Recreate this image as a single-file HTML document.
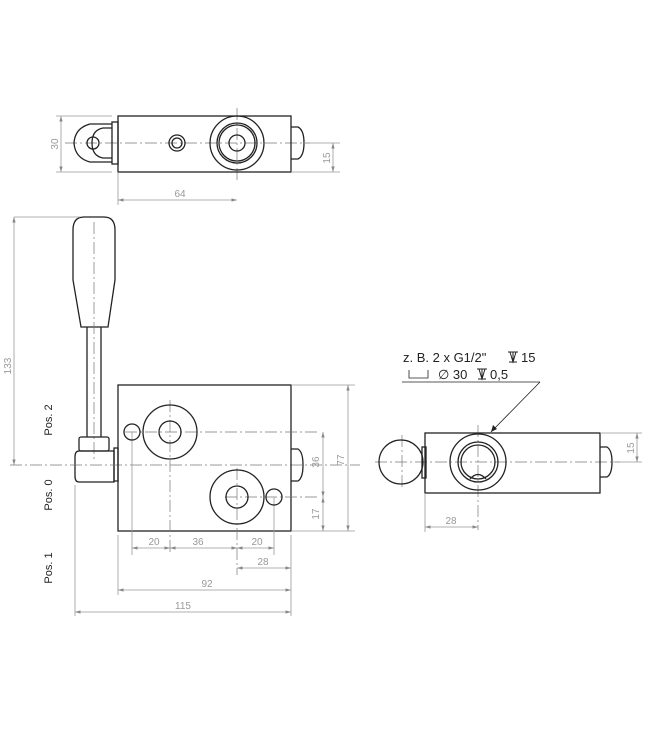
<!DOCTYPE html>
<html><head><meta charset="utf-8"><style>
html,body{margin:0;padding:0;background:#fff}
svg{display:block}
text{font-family:"Liberation Sans",sans-serif;fill:#999;font-size:10px}
.k{stroke:#222;stroke-width:1.3;fill:none}
.d{stroke:#999;stroke-width:0.8;fill:none}
.c{stroke:#777;stroke-width:0.7;fill:none;stroke-dasharray:12 3 2 3}
</style></head><body>
<svg width="650" height="730" viewBox="0 0 650 730" xmlns="http://www.w3.org/2000/svg">
<defs>
<marker id="a" viewBox="0 0 10 10" refX="10" refY="5" markerWidth="7" markerHeight="7" orient="auto-start-reverse"><path d="M0,2L10,5L0,8z" fill="#888"/></marker>
</defs>
<!-- TOP VIEW -->
<line class="c" x1="65" y1="143" x2="310" y2="143"/>
<line class="c" x1="237" y1="108" x2="237" y2="180"/>
<path class="k" d="M112,124 L90,124 Q75,128 74,143 Q75,158 90,162 L112,162"/>
<path class="k" d="M112,128 L103,128 Q92,130 92,143 Q92,156 103,158 L112,158"/>
<circle class="k" cx="93" cy="143" r="6"/>
<rect class="k" x="112" y="122" width="6" height="42"/>
<rect class="k" x="118" y="116" width="173" height="56"/>
<circle class="k" cx="177" cy="143" r="8"/>
<circle class="k" cx="177" cy="143" r="5"/>
<circle class="k" cx="237" cy="143" r="27"/>
<circle class="k" cx="237" cy="143" r="20"/>
<circle class="k" cx="237" cy="143" r="18"/>
<circle class="k" cx="237" cy="143" r="8"/>
<path class="k" d="M291,127 L298,127 Q304,130 304,143 Q304,156 298,159 L291,159"/>
<line class="d" x1="56" y1="116" x2="112" y2="116"/><line class="d" x1="56" y1="172" x2="112" y2="172"/>
<line class="d" x1="61" y1="116" x2="61" y2="172" marker-start="url(#a)" marker-end="url(#a)"/>
<text x="58" y="144" text-anchor="middle" transform="rotate(-90 58 144)">30</text>
<line class="d" x1="291" y1="172" x2="340" y2="172"/><line class="d" x1="304" y1="143" x2="340" y2="143"/>
<line class="d" x1="333" y1="143" x2="333" y2="172" marker-start="url(#a)" marker-end="url(#a)"/>
<text x="330" y="158" text-anchor="middle" transform="rotate(-90 330 158)">15</text>
<line class="d" x1="118" y1="172" x2="118" y2="205"/>
<line class="d" x1="118" y1="200" x2="237" y2="200" marker-start="url(#a)" marker-end="url(#a)"/>
<text x="180" y="197" text-anchor="middle">64</text>

<!-- FRONT VIEW -->
<path class="k" d="M84,217 Q73,217 73,230 L73,280 L81,327 L108,327 L115,280 L115,230 Q115,217 104,217 Z"/>
<line class="c" x1="94" y1="222" x2="94" y2="460"/>
<line class="k" x1="87" y1="327" x2="87" y2="437"/>
<line class="k" x1="101" y1="327" x2="101" y2="437"/>
<rect class="k" x="79" y="437" width="30" height="14" rx="2"/>
<path class="k" d="M79,451 L114,451 L114,482 L79,482 Q75,482 75,476 L75,457 Q75,451 79,451 Z"/>
<rect class="k" x="114" y="448" width="4" height="33"/>
<line class="c" x1="10" y1="465" x2="360" y2="465"/>
<rect class="k" x="118" y="385" width="173" height="146"/>
<path class="k" d="M291,449 L298,449 Q303,452 303,465 Q303,478 298,481 L291,481"/>
<line class="c" x1="125" y1="432" x2="320" y2="432"/>
<line class="c" x1="225" y1="497" x2="320" y2="497"/>
<line class="c" x1="170" y1="400" x2="170" y2="555"/>
<line class="c" x1="237" y1="468" x2="237" y2="575"/>
<line class="d" x1="132" y1="432" x2="132" y2="555"/>
<line class="d" x1="274" y1="497" x2="274" y2="555"/>
<circle class="k" cx="170" cy="432" r="27"/><circle class="k" cx="170" cy="432" r="11"/>
<circle class="k" cx="132" cy="432" r="8"/>
<circle class="k" cx="237" cy="497" r="27"/><circle class="k" cx="237" cy="497" r="11"/>
<circle class="k" cx="274" cy="497" r="8"/>
<line class="d" x1="14" y1="217" x2="80" y2="217"/>
<line class="d" x1="14" y1="217" x2="14" y2="465" marker-start="url(#a)" marker-end="url(#a)"/>
<text x="11" y="366" text-anchor="middle" transform="rotate(-90 11 366)">133</text>
<line class="d" x1="291" y1="385" x2="355" y2="385"/><line class="d" x1="291" y1="531" x2="355" y2="531"/>
<line class="d" x1="348" y1="385" x2="348" y2="531" marker-start="url(#a)" marker-end="url(#a)"/>
<text x="344" y="460" text-anchor="middle" transform="rotate(-90 344 460)">77</text>
<line class="d" x1="323" y1="432" x2="323" y2="497" marker-start="url(#a)" marker-end="url(#a)"/>
<text x="319" y="462" text-anchor="middle" transform="rotate(-90 319 462)">36</text>
<line class="d" x1="323" y1="497" x2="323" y2="531" marker-start="url(#a)" marker-end="url(#a)"/>
<text x="319" y="514" text-anchor="middle" transform="rotate(-90 319 514)">17</text>
<line class="d" x1="118" y1="535" x2="118" y2="595"/>
<line class="d" x1="291" y1="535" x2="291" y2="616"/>
<line class="d" x1="75" y1="485" x2="75" y2="616"/>
<line class="d" x1="132" y1="548" x2="170" y2="548" marker-start="url(#a)" marker-end="url(#a)"/><text x="154" y="545" text-anchor="middle">20</text>
<line class="d" x1="170" y1="548" x2="237" y2="548" marker-start="url(#a)" marker-end="url(#a)"/><text x="198" y="545" text-anchor="middle">36</text>
<line class="d" x1="237" y1="548" x2="274" y2="548" marker-start="url(#a)" marker-end="url(#a)"/><text x="257" y="545" text-anchor="middle">20</text>
<line class="d" x1="237" y1="568" x2="291" y2="568" marker-start="url(#a)" marker-end="url(#a)"/><text x="263" y="565" text-anchor="middle">28</text>
<line class="d" x1="118" y1="590" x2="291" y2="590" marker-start="url(#a)" marker-end="url(#a)"/><text x="207" y="587" text-anchor="middle">92</text>
<line class="d" x1="75" y1="612" x2="291" y2="612" marker-start="url(#a)" marker-end="url(#a)"/><text x="183" y="609" text-anchor="middle">115</text>
<text x="52" y="420" text-anchor="middle" transform="rotate(-90 52 420)" style="fill:#222;font-size:11px">Pos. 2</text>
<text x="52" y="495" text-anchor="middle" transform="rotate(-90 52 495)" style="fill:#222;font-size:11px">Pos. 0</text>
<text x="52" y="568" text-anchor="middle" transform="rotate(-90 52 568)" style="fill:#222;font-size:11px">Pos. 1</text>

<!-- SIDE VIEW -->
<line class="c" x1="375" y1="462" x2="620" y2="462"/>
<line class="c" x1="478" y1="425" x2="478" y2="530"/>
<line class="c" x1="402" y1="435" x2="402" y2="490"/>
<circle class="k" cx="401" cy="462" r="22"/>
<rect class="k" x="422" y="447" width="4" height="31"/>
<rect class="k" x="425" y="433" width="175" height="60"/>
<circle class="k" cx="478" cy="462" r="28"/>
<circle class="k" cx="478" cy="462" r="20"/>
<circle class="k" cx="478" cy="462" r="17"/>
<path class="k" d="M470,479 Q478,470 486,479"/>
<path class="k" d="M600,447 L607,447 Q612,450 612,462 Q612,474 607,477 L600,477"/>
<line class="d" x1="600" y1="433" x2="642" y2="433"/><line class="d" x1="612" y1="462" x2="642" y2="462"/>
<line class="d" x1="637" y1="433" x2="637" y2="462" marker-start="url(#a)" marker-end="url(#a)"/>
<text x="634" y="448" text-anchor="middle" transform="rotate(-90 634 448)">15</text>
<line class="d" x1="425" y1="493" x2="425" y2="532"/>
<line class="d" x1="425" y1="527" x2="478" y2="527" marker-start="url(#a)" marker-end="url(#a)"/>
<text x="451" y="524" text-anchor="middle">28</text>
<line x1="402" y1="382" x2="540" y2="382" stroke="#222" stroke-width="0.8"/>
<line x1="540" y1="382" x2="491" y2="432" stroke="#222" stroke-width="0.8"/>
<path d="M491,432 L493,425 L497,429 Z" fill="#222"/>
<text x="403" y="362" style="fill:#222;font-size:13px">z. B. 2 x G1/2"</text>
<path d="M508,352 L518,352 M510,352 L513,362 L516,352 M513,352 L513,362 M509,362 L517,362" stroke="#222" stroke-width="1" fill="none"/>
<text x="521" y="362" style="fill:#222;font-size:13px">15</text>
<path d="M409,370 L409,378 L428,378 L428,370" stroke="#222" stroke-width="0.8" fill="none"/>
<text x="438" y="379" style="fill:#222;font-size:13px">∅ 30</text>
<path d="M477,369 L487,369 M479,369 L482,379 L485,369 M482,369 L482,379 M478,379 L486,379" stroke="#222" stroke-width="1" fill="none"/>
<text x="490" y="379" style="fill:#222;font-size:13px">0,5</text>
</svg>
</body></html>
